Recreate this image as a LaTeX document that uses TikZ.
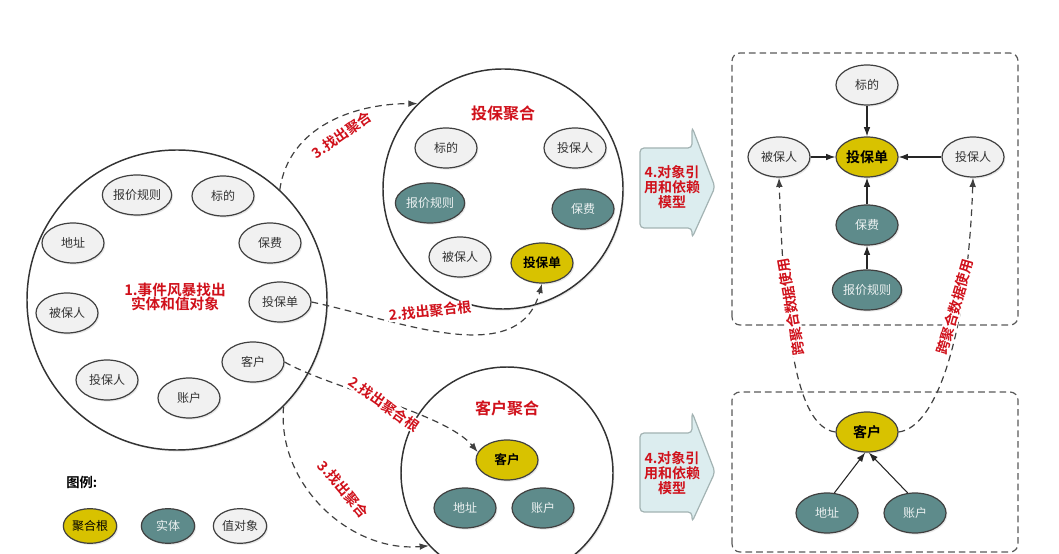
\documentclass[tikz,border=0pt]{standalone}
\usepackage{fontspec}
\setmainfont{Noto Sans CJK SC}[BoldFont={Noto Sans CJK SC Bold}]
\usetikzlibrary{arrows.meta,shadows,shapes.geometric}
\definecolor{yel}{HTML}{D8C200}
\definecolor{tealc}{HTML}{5E8B8B}
\definecolor{vofill}{HTML}{F1F1F1}
\definecolor{redc}{HTML}{D0111B}
\definecolor{blkfill}{HTML}{DCEDEF}
\definecolor{blkdraw}{HTML}{A3B3B3}
\begin{document}
\begin{tikzpicture}[x=0.75pt,y=0.75pt,
  shd/.style={drop shadow={opacity=0.18,shadow xshift=1pt,shadow yshift=-1.2pt}},
  base/.style={ellipse,draw=black!75,line width=0.9pt,minimum width=46.5pt,minimum height=30pt,inner sep=0pt,font=\fontsize{9}{10}\selectfont,shd},
  vo/.style={base,fill=vofill,text=black!80},
  ent/.style={base,fill=tealc,text=white!88!tealc},
  root/.style={base,fill=yel,text=black,font=\bfseries\fontsize{9.5}{10}\selectfont},
  wide/.style={minimum width=52pt},
  bigc/.style={circle,draw=black!80,line width=1.1pt,fill=white,inner sep=0pt,shd},
  redt/.style={text=redc,font=\bfseries\fontsize{#1}{#1}\selectfont,align=center,inner sep=0pt},
  lab/.style={redt=10.5,fill=white,inner sep=0.5pt},
  conn/.style={draw=black!75,line width=0.9pt,dash pattern=on 5pt off 3.5pt,-{Latex[length=7pt,width=5pt]}},
  sol/.style={draw=black!85,line width=0.8pt,-{Latex[length=7pt,width=5pt]}},
  dbox/.style={draw=black!65,line width=0.9pt,dash pattern=on 5pt off 3pt,rounded corners=6pt},
  blk/.style={draw=blkdraw,line width=0.9pt,fill=blkfill,rounded corners=3pt}
]
\useasboundingbox (0,0) rectangle (1059,553);
\clip (0,0) rectangle (1059,553);

% ---------- big circle ----------
\node[bigc,minimum size=225pt] (big) at (177,253) {};
\node[vo,wide] (b1) at (137,358) {报价规则};
\node[vo] (b2) at (223,357) {标的};
\node[vo] (b3) at (73,310) {地址};
\node[vo] (b4) at (270,310) {保费};
\node[vo] (b5) at (67,240) {被保人};
\node[vo] (b6) at (280,251) {投保单};
\node[vo] (b7) at (253,191) {客户};
\node[vo] (b8) at (107,173) {投保人};
\node[vo] (b9) at (189,155) {账户};
\node[redt=11] (bt) at (175,256) {1.事件风暴找出\\实体和值对象};

% ---------- top aggregate ----------
\node[bigc,minimum size=180pt] (topc) at (503,364) {};
\node[redt=12] (tt) at (503,440) {投保聚合};
\node[vo] (t1) at (446,405) {标的};
\node[vo] (t2) at (575,405) {投保人};
\node[ent,wide] (t3) at (430,350) {报价规则};
\node[ent] (t4) at (583,344) {保费};
\node[vo] (t5) at (460,296) {被保人};
\node[root] (t6) at (542,290) {投保单};

% ---------- bottom aggregate ----------
\node[bigc,minimum size=159pt] (botc) at (507,80) {};
\node[redt=12] (bt2) at (507,145) {客户聚合};
\node[root] (k1) at (507,93) {客户};
\node[ent] (k2) at (465,45) {地址};
\node[ent] (k3) at (543,45) {账户};

% ---------- connectors from big circle ----------
\draw[conn] (big.47) to[out=82,in=180] (topc.135);
\node[lab,rotate=35] (l1) at (342,418) {3.找出聚合};
\draw[conn] (b6.east) to[out=-12,in=-105] (t6.south);
\node[lab,rotate=6] (l2) at (430,242) {2.找出聚合根};
\draw[conn] (b7.east) .. controls (330,165) and (445,140) .. (k1.165);
\node[lab,rotate=-35] (l3) at (384,149) {2.找出聚合根};
\draw[conn] (big.-45) to[out=-95,in=185] (botc.223);
\node[lab,rotate=-50] (l4) at (343,64) {3.找出聚合};

% ---------- block arrows ----------
\draw[blk] (640,405) -- (692,405) -- (692,426) -- (715,366) -- (692,315) -- (692,325) -- (640,325) -- cycle;
\node[redt=10.5] (a1) at (672,366) {4.对象引\\[1pt]用和依赖\\[1pt]模型};
\draw[blk] (640,120) -- (692,120) -- (692,141) -- (715,81) -- (692,31) -- (692,41) -- (640,41) -- cycle;
\node[redt=10.5] (a2) at (672,80) {4.对象引\\[1pt]用和依赖\\[1pt]模型};

% ---------- right boxes ----------
\draw[dbox] (732,228) rectangle (1018,500);
\draw[dbox] (732,1) rectangle (1018,161);

\node[vo] (r1) at (867,468) {标的};
\node[root,font=\bfseries\fontsize{10.5}{11}\selectfont] (r2) at (867,396) {投保单};
\node[vo] (r3) at (779,396) {被保人};
\node[vo] (r4) at (973,396) {投保人};
\node[ent] (r5) at (867,328) {保费};
\node[ent,wide] (r6) at (867,263) {报价规则};
\draw[sol] (r1) -- (r2);
\draw[sol] (r3) -- (r2);
\draw[sol] (r4) -- (r2);
\draw[sol] (r5) -- (r2);
\draw[sol] (r6) -- (r5);

\node[root,font=\bfseries\fontsize{10.5}{11}\selectfont] (s1) at (867,121) {客户};
\node[ent] (s2) at (827,40) {地址};
\node[ent] (s3) at (915,40) {账户};
\draw[sol] (s2.70) -- (s1.-95);
\draw[sol] (s3.110) -- (s1.-85);

\draw[conn] (s1.west) .. controls +(-40,5) and +(5,-150) .. (r3.south);
\draw[conn] (s1.east) .. controls +(40,5) and +(-5,-150) .. (r4.south);
\node[lab,rotate=100] (x1) at (791,246) {跨聚合数据使用};
\node[lab,rotate=74] (x2) at (955,246) {跨聚合数据使用};

% ---------- legend ----------
\node[anchor=west,font=\bfseries\fontsize{10}{10}\selectfont,inner sep=0pt] (lg) at (66,71) {图例:};
\node[root,minimum width=40pt,minimum height=26pt,font=\fontsize{9}{10}\selectfont] (g1) at (90,27) {聚合根};
\node[ent,minimum width=40pt,minimum height=26pt] (g2) at (168,27) {实体};
\node[vo,minimum width=40pt,minimum height=26pt] (g3) at (240,27) {值对象};
\end{tikzpicture}
\end{document}
